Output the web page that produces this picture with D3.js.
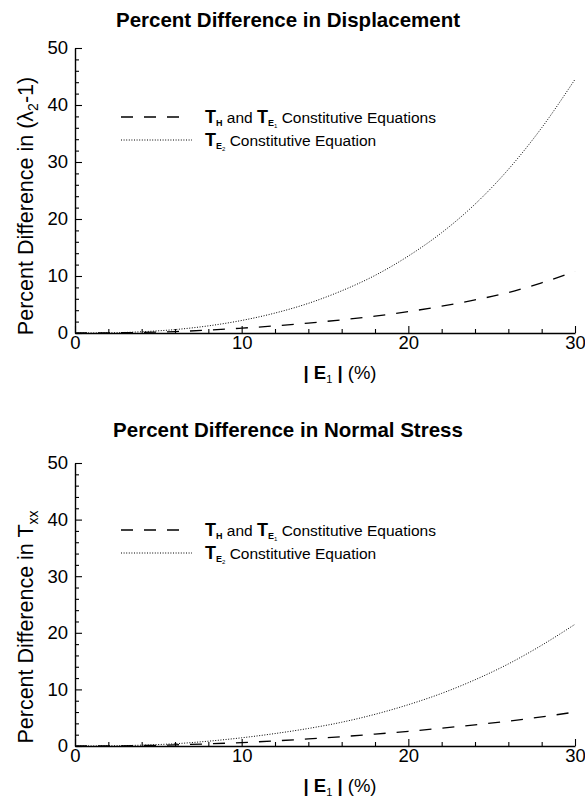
<!DOCTYPE html>
<html>
<head>
<meta charset="utf-8">
<script src="https://cdn.jsdelivr.net/npm/d3@7"></script>
<style>
  html, body { margin: 0; padding: 0; background: #fff; }
  svg { display: block; font-family: "Liberation Sans", Arial, Helvetica, sans-serif; }
</style>
</head>
<body>
<svg id="chart" width="585" height="798"></svg>
<script>
// |E1| strain levels (%)
const strain = [0, 2, 4, 6, 8, 10, 12, 14, 16, 18, 20, 22, 24, 26, 28, 30];

// Percent difference in displacement (lambda2 - 1)
const dispHE1 = [0, 0.02, 0.1, 0.25, 0.5, 0.85, 1.25, 1.75, 2.3, 2.95, 3.75, 4.7, 5.8, 7.1, 8.8, 10.8];
const dispE2  = [0, 0.03, 0.22, 0.6, 1.25, 2.2, 3.5, 5.2, 7.4, 10.1, 13.5, 17.6, 22.6, 28.7, 36.0, 44.5];

// Percent difference in normal stress Txx
const stressHE1 = [0, 0.02, 0.08, 0.2, 0.38, 0.6, 0.9, 1.25, 1.65, 2.1, 2.6, 3.15, 3.75, 4.4, 5.15, 6.0];
const stressE2  = [0, 0.03, 0.15, 0.4, 0.85, 1.45, 2.2, 3.1, 4.2, 5.6, 7.3, 9.3, 11.7, 14.5, 17.8, 21.5];

const xMajor = [0, 10, 20, 30];
const xMinor = [2, 4, 6, 8, 12, 14, 16, 18, 22, 24, 26, 28];
const yMajor = [0, 10, 20, 30, 40, 50];
const yMinor = [2, 4, 6, 8, 12, 14, 16, 18, 22, 24, 26, 28, 32, 34, 36, 38, 42, 44, 46, 48];

const svg = d3.select("#chart");
svg.append("rect").attr("width", 585).attr("height", 798).attr("fill", "#fff");

const panels = [
  { title: "Percent Difference in Displacement", top: 48, bottom: 333,
    titleY: 27, yLabel: "disp", yLabelY: 206, legendY: 117,
    dashed: dispHE1, dotted: dispE2 },
  { title: "Percent Difference in Normal Stress", top: 463, bottom: 746,
    titleY: 437, yLabel: "stress", yLabelY: 627, legendY: 530,
    dashed: stressHE1, dotted: stressE2 }
];

const left = 75, right = 575;

panels.forEach(p => {
  const x = d3.scaleLinear().domain([0, 30]).range([left, right]);
  const y = d3.scaleLinear().domain([0, 50]).range([p.bottom, p.top]);
  const g = svg.append("g");

  // Title
  g.append("text")
    .attr("x", 288).attr("y", p.titleY)
    .attr("text-anchor", "middle")
    .attr("font-weight", "bold").attr("font-size", 20.5)
    .text(p.title);

  // Y axis: major ticks (inward) with labels
  g.append("g").attr("transform", `translate(${left},0)`)
    .call(d3.axisLeft(y).tickValues(yMajor).tickSizeInner(-7).tickSizeOuter(0).tickPadding(7));
  // Y axis minor ticks
  g.append("g").attr("transform", `translate(${left},0)`)
    .call(d3.axisLeft(y).tickValues(yMinor).tickSizeInner(-4).tickSizeOuter(0).tickFormat(""))
    .call(a => a.select(".domain").remove());

  // X axis: major ticks (inward) with labels
  g.append("g").attr("transform", `translate(0,${p.bottom})`)
    .call(d3.axisBottom(x).tickValues(xMajor).tickSizeInner(-7).tickSizeOuter(0).tickPadding(3));
  g.append("g").attr("transform", `translate(0,${p.bottom})`)
    .call(d3.axisBottom(x).tickValues(xMinor).tickSizeInner(-4).tickSizeOuter(0).tickFormat(""))
    .call(a => a.select(".domain").remove());

  g.selectAll(".domain").attr("stroke", "#000").attr("stroke-width", 1.4);
  g.selectAll(".tick line").attr("stroke", "#000").attr("stroke-width", 1.1);
  g.selectAll(".tick text").attr("fill", "#000").attr("font-size", 18.5)
    .attr("font-family", "'Liberation Sans', Arial, sans-serif");

  // Y axis title (rotated)
  const yl = g.append("text")
    .attr("transform", `translate(33,${p.yLabelY}) rotate(-90)`)
    .attr("text-anchor", "middle").attr("font-size", 21.5);
  yl.append("tspan").text("Percent Difference in ");
  if (p.yLabel === "disp") {
    yl.append("tspan").text("(λ");
    yl.append("tspan").attr("font-size", 14).attr("dy", 5).text("2");
    yl.append("tspan").attr("dy", -5).text("-1)");
  } else {
    yl.append("tspan").text("T");
    yl.append("tspan").attr("font-size", 14).attr("dy", 5).text("xx");
  }

  // X axis title: | E1 | (%)
  const xl = g.append("text")
    .attr("x", 340).attr("y", p.bottom + 46)
    .attr("text-anchor", "middle").attr("font-size", 18.5);
  xl.append("tspan").attr("font-weight", "bold").text("| E");
  xl.append("tspan").attr("font-size", 11).attr("dy", 4).text("1");
  xl.append("tspan").attr("dy", -4).attr("font-weight", "bold").text(" |");
  xl.append("tspan").text("  (%)");

  // Curves
  const line = d3.line()
    .x((d, i) => x(strain[i]))
    .y(d => y(d))
    .curve(d3.curveMonotoneX);

  g.append("path").datum(p.dashed)
    .attr("d", line).attr("fill", "none")
    .attr("stroke", "#000").attr("stroke-width", 1.3)
    .attr("stroke-dasharray", "12,11");

  g.append("path").datum(p.dotted)
    .attr("d", line).attr("fill", "none")
    .attr("stroke", "#000").attr("stroke-width", 1)
    .attr("stroke-dasharray", "1,1.6");

  // Legend
  const ly1 = p.legendY, ly2 = p.legendY + 23;
  g.append("line").attr("x1", 121).attr("x2", 180).attr("y1", ly1).attr("y2", ly1)
    .attr("stroke", "#000").attr("stroke-width", 1.3).attr("stroke-dasharray", "12,11");
  g.append("line").attr("x1", 121).attr("x2", 192).attr("y1", ly2).attr("y2", ly2)
    .attr("stroke", "#000").attr("stroke-width", 1).attr("stroke-dasharray", "1,1.6");

  const t1 = g.append("text").attr("x", 205).attr("y", ly1 + 6).attr("font-size", 15.5);
  t1.append("tspan").attr("font-weight", "bold").attr("font-size", 18).text("T");
  t1.append("tspan").attr("font-weight", "bold").attr("font-size", 9).attr("dy", 3).text("H");
  t1.append("tspan").attr("dy", -3).text(" and ");
  t1.append("tspan").attr("font-weight", "bold").attr("font-size", 18).text("T");
  t1.append("tspan").attr("font-weight", "bold").attr("font-size", 9).attr("dy", 3).text("E");
  t1.append("tspan").attr("font-size", 6).attr("dy", 2).text("1");
  t1.append("tspan").attr("dy", -5).text("  Constitutive Equations");

  const t2 = g.append("text").attr("x", 205).attr("y", ly2 + 6).attr("font-size", 15.5);
  t2.append("tspan").attr("font-weight", "bold").attr("font-size", 18).text("T");
  t2.append("tspan").attr("font-weight", "bold").attr("font-size", 9).attr("dy", 3).text("E");
  t2.append("tspan").attr("font-size", 6).attr("dy", 2).text("2");
  t2.append("tspan").attr("dy", -5).text("  Constitutive Equation");
});
</script>
</body>
</html>
